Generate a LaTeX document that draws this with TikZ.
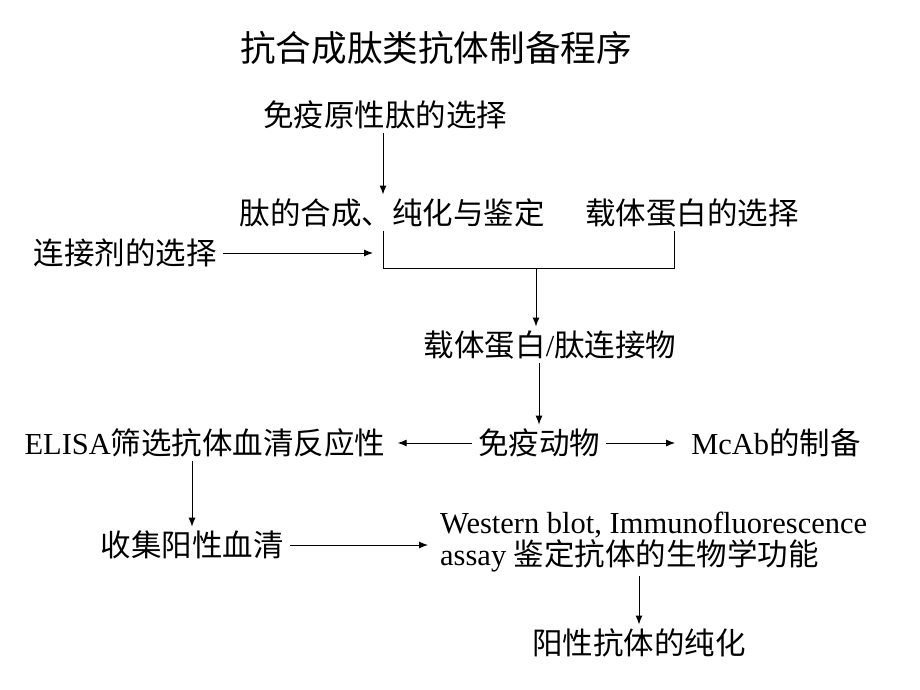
\documentclass[tikz,border=0pt]{standalone}
\usepackage{fontspec}
\setmainfont{Liberation Serif}
\newfontfamily\cjk{Noto Sans CJK SC}
\usetikzlibrary{arrows.meta}
\begin{document}
\begin{tikzpicture}[x=1pt,y=-1pt,
  lbl/.style={inner xsep=6pt, inner ysep=4pt, font=\fontsize{30.5}{32}\selectfont},
  ttl/.style={inner sep=4pt, font=\fontsize{35.6}{40}\selectfont},
  arr/.style={-{Latex[length=9pt,width=7pt]}, line width=1pt},
  hz/.style={arr, shorten >=6pt},
  ln/.style={line width=1pt}]
\useasboundingbox (0,0) rectangle (920,690);

\node[ttl] (title) at (436,48) {\cjk 抗合成肽类抗体制备程序};
\node[lbl] (sel) at (385,115) {\cjk 免疫原性肽的选择};
\node[lbl] (syn) at (392,213) {\cjk 肽的合成、纯化与鉴定};
\node[lbl] (car) at (692,213) {\cjk 载体蛋白的选择};
\node[lbl] (link) at (125,253) {\cjk 连接剂的选择};
\node[lbl] (conj) at (550,345) {{\cjk 载体蛋白}/{\cjk 肽连接物}};
\node[lbl] (imm) at (539,443) {\cjk 免疫动物};
\node[lbl] (elisa) at (205,443) {ELISA{\cjk 筛选抗体血清反应性}};
\node[lbl] (mcab) at (776,443) {McAb{\cjk 的制备}};
\node[lbl] (serum) at (192,545) {\cjk 收集阳性血清};
\node[lbl, anchor=west, align=left] (wb) at (434,542) {Western blot, Immunofluorescence\\assay {\cjk 鉴定抗体的生物学功能}};
\node[lbl] (pur) at (639,643) {\cjk 阳性抗体的纯化};

\coordinate (jl) at (383,268);
\coordinate (jr) at (674,268);
\coordinate (jm) at (536,268);

\draw[arr] (sel.south -| jl) -- (jl |- syn.north);
\draw[ln] (jl |- syn.south) -- (jl) -- (jr) -- (jr |- car.south);
\draw[arr, shorten >=10pt] (link.east) -- (link.east -| jl);
\draw[arr] (jm) -- (jm |- conj.north);
\draw[arr] (conj.south -| imm.north) -- (imm.north);
\draw[hz] (imm.west) -- (elisa.east);
\draw[hz, shorten >=10pt] (imm.east) -- (mcab.west);
\draw[arr] (serum.north |- elisa.south) -- (serum.north);
\draw[hz] (serum.east) -- (wb.west |- serum.east);
\draw[arr] (wb.south -| pur.north) -- (pur.north);
\end{tikzpicture}
\end{document}
